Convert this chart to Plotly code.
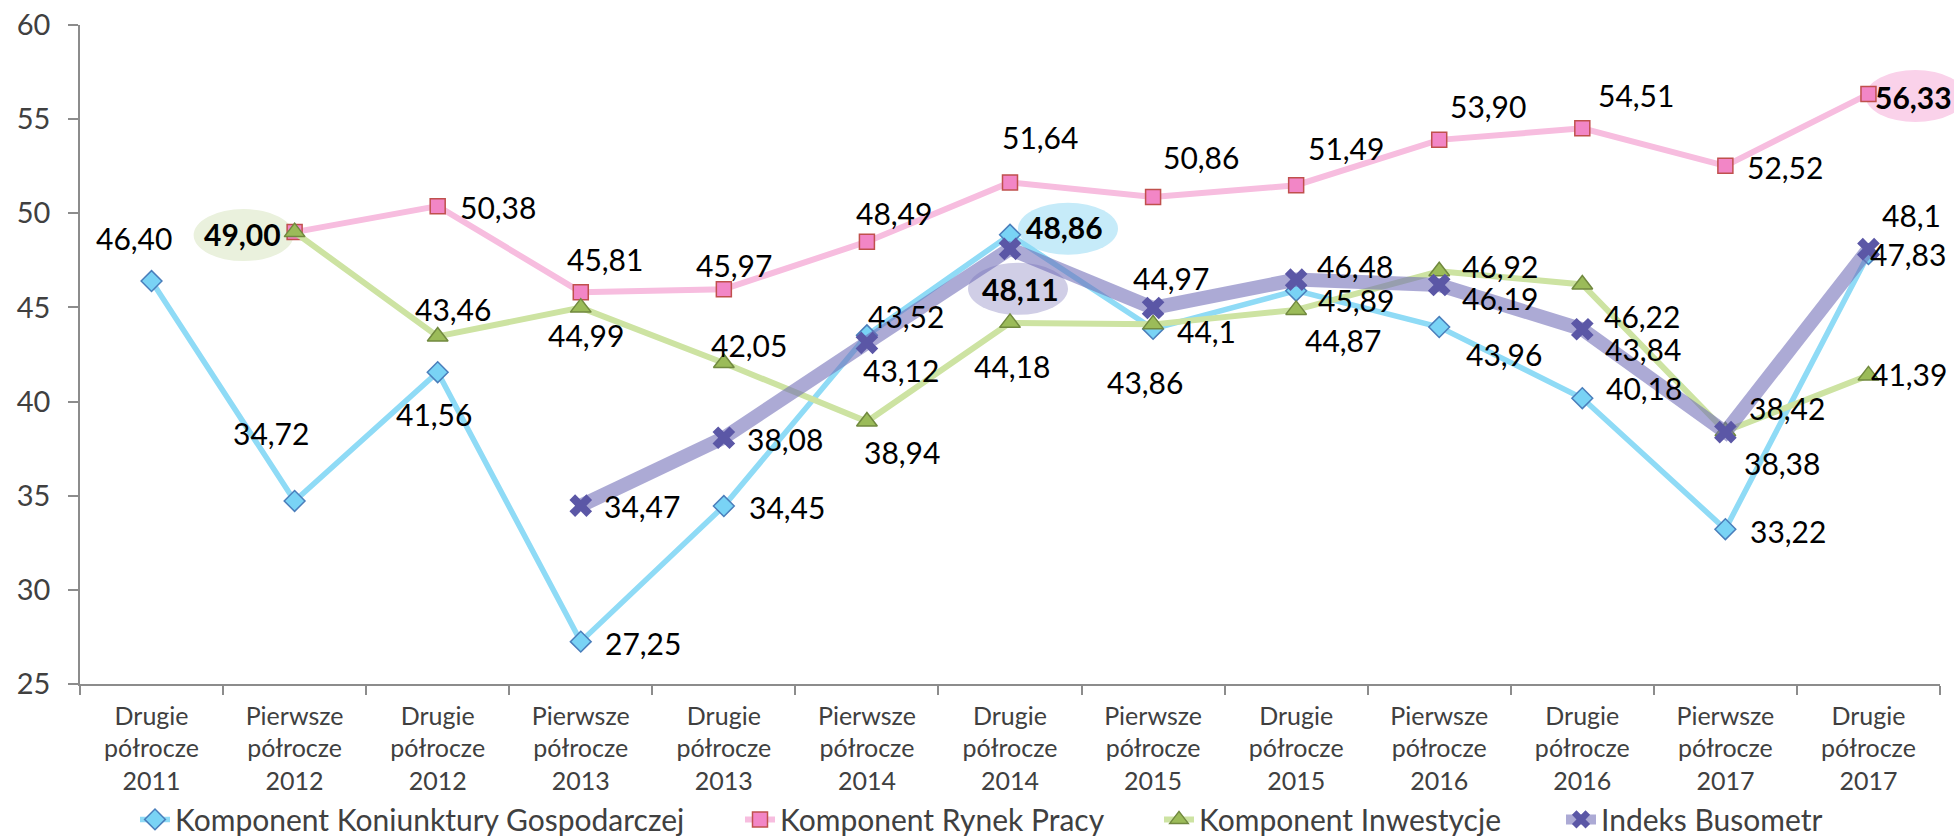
import plotly.graph_objects as go

# ---------------- data ----------------
categories = [
    "Drugie<br>półrocze<br>2011", "Pierwsze<br>półrocze<br>2012", "Drugie<br>półrocze<br>2012",
    "Pierwsze<br>półrocze<br>2013", "Drugie<br>półrocze<br>2013", "Pierwsze<br>półrocze<br>2014",
    "Drugie<br>półrocze<br>2014", "Pierwsze<br>półrocze<br>2015", "Drugie<br>półrocze<br>2015",
    "Pierwsze<br>półrocze<br>2016", "Drugie<br>półrocze<br>2016", "Pierwsze<br>półrocze<br>2017",
    "Drugie<br>półrocze<br>2017",
]
koniunktura = [46.40, 34.72, 41.56, 27.25, 34.45, 43.52, 48.86, 43.86, 45.89, 43.96, 40.18, 33.22, 47.83]
rynek_pracy = [None, 49.00, 50.38, 45.81, 45.97, 48.49, 51.64, 50.86, 51.49, 53.90, 54.51, 52.52, 56.33]
inwestycje = [None, 49.00, 43.46, 44.99, 42.05, 38.94, 44.18, 44.1, 44.87, 46.92, 46.22, 38.42, 41.39]
busometr = [None, None, None, 34.47, 38.08, 43.12, 48.11, 44.97, 46.48, 46.19, 43.84, 38.38, 48.1]
series_names = ["Komponent Koniunktury Gospodarczej", "Komponent Rynek Pracy",
                "Komponent Inwestycje", "Indeks Busometr"]
# points whose label is printed with one decimal only
one_decimal = {(2, 7), (3, 12)}
# points without a data label
no_label = {(1, 1)}
# highlighted (bold, with ellipse) labels
highlight = {(0, 6), (1, 12), (2, 1), (3, 6)}

# ---------------- style ----------------
FONT = "Lato, 'Open Sans', sans-serif"
line_colors = ["#8FDBF6", "#F7BDDF", "#CDE3A2", "rgba(112,108,182,0.58)"]
line_widths = [5.5, 6, 6, 14]
marker_symbols = ["diamond", "square", "triangle-up", "x"]
marker_sizes = [16, 15, 18, 20]
marker_fills = ["#79D3F5", "#F286C6", "#9BBB59", "#5B57A6"]
marker_edges = ["#4A7EBB", "#C0504D", "#71893F", "#5B57A6"]
marker_edge_w = [1.5, 1.5, 1.5, 0]
# left edge (container fraction) of each legend entry
legend_x = [(180 - 45) / 1954, (785 - 45) / 1954, (1204 - 45) / 1954, (1606 - 45) / 1954]
legend_ids = ["legend", "legend2", "legend3", "legend4"]

# label offsets in px (dx right, dy down), by series then point index
label_offsets = [
    [(-18, -43), (-24, -68), (-4, 42), (62, 1), (63, 1), (39, -19), (54, -8), (-8, 53),
     (60, 9), (65, 27), (62, -10), (63, 2), (40, 0)],
    [None, None, (60, 1), (24, -33), (10, -24), (27, -29), (30, -45), (48, -40), (50, -37),
     (49, -34), (54, -33), (60, 1), (45, 3)],
    [None, (-52, 2), (15, -27), (5, 27), (25, -18), (35, 30), (2, 43), (53, 7), (47, 30),
     (61, -5), (60, 32), (62, -23), (41, -1)],
    [None, None, None, (61, 0), (61, 1), (34, 27), (10, 40), (18, -30), (59, -14),
     (61, 13), (61, 20), (57, 31), (43, -34)],
]
# ellipses: (series, index, dx, dy, rx, ry, color)
ellipses = [
    (2, 1, -51, 3, 50, 26, "#EAF1DD"),
    (0, 6, 58, -6, 50, 26, "#C6EBF9"),
    (3, 6, 8, 40, 50, 26, "#D0CEE6"),
    (1, 12, 47, 2, 50, 26, "#FAD2EA"),
]

all_series = [koniunktura, rynek_pracy, inwestycje, busometr]

fig = go.Figure()
for s, vals in enumerate(all_series):
    fig.add_trace(go.Scatter(
        x=categories, y=vals, name=series_names[s], mode="lines+markers",
        line=dict(color=line_colors[s], width=line_widths[s]),
        marker=dict(symbol=marker_symbols[s], size=marker_sizes[s], color=marker_fills[s],
                    line=dict(color=marker_edges[s], width=marker_edge_w[s])),
        hoverinfo="skip", legend=legend_ids[s],
    ))

annotations = []
for s, vals in enumerate(all_series):
    for i, v in enumerate(vals):
        if v is None or (s, i) in no_label:
            continue
        dec = 1 if (s, i) in one_decimal else 2
        txt = f"{v:.{dec}f}".replace(".", ",")
        if (s, i) in highlight:
            txt = f"<b>{txt}</b>"
        dx, dy = label_offsets[s][i]
        annotations.append(dict(
            x=categories[i], y=v, xref="x", yref="y", text=txt, showarrow=False,
            xanchor="center", yanchor="middle", xshift=dx, yshift=-dy,
            font=dict(family=FONT, size=30, color="#000000"),
        ))

n = len(categories)
shapes = []
for s, i, dx, dy, rx, ry, col in ellipses:
    v = all_series[s][i]
    shapes.append(dict(
        type="circle", xref="paper", yref="y", xsizemode="pixel", ysizemode="pixel",
        xanchor=(i + 0.5) / n, yanchor=v,
        x0=dx - rx, x1=dx + rx, y0=-dy - ry, y1=-dy + ry,
        fillcolor=col, line=dict(width=0), layer="below",
    ))

legend_style = dict(orientation="h", xref="container", xanchor="left", yref="paper",
                    y=-0.166, yanchor="top", bgcolor="rgba(0,0,0,0)",
                    font=dict(family=FONT, size=30, color="#404040"), itemsizing="trace")
legends = {lid: dict(legend_style, x=legend_x[k]) for k, lid in enumerate(legend_ids)}

fig.update_layout(
    width=1954, height=836,
    margin=dict(l=80, r=14, t=25, b=152, autoexpand=False),
    paper_bgcolor="white", plot_bgcolor="white",
    font=dict(family=FONT, color="#404040"),
    showlegend=True,
    annotations=annotations,
    shapes=shapes,
    xaxis=dict(
        type="category", range=[-0.5, n - 0.5], showgrid=False, zeroline=False,
        showline=True, linecolor="#8C8C8C", linewidth=1.5,
        ticks="outside", tickson="boundaries", ticklen=9, tickcolor="#8C8C8C", tickwidth=1.5,
        tickfont=dict(family=FONT, size=25, color="#404040"),
        ticklabelstandoff=9,
    ),
    yaxis=dict(
        range=[25, 60], dtick=5, showgrid=False, zeroline=False,
        showline=True, linecolor="#8C8C8C", linewidth=1.5,
        ticks="outside", ticklen=10, tickcolor="#8C8C8C", tickwidth=1.5,
        tickfont=dict(family=FONT, size=29, color="#404040"),
        ticklabelstandoff=12,
    ),
    **legends,
)

fig.write_html("out.html", config={"displayModeBar": False},
               post_script="document.body.style.margin='0px';")
